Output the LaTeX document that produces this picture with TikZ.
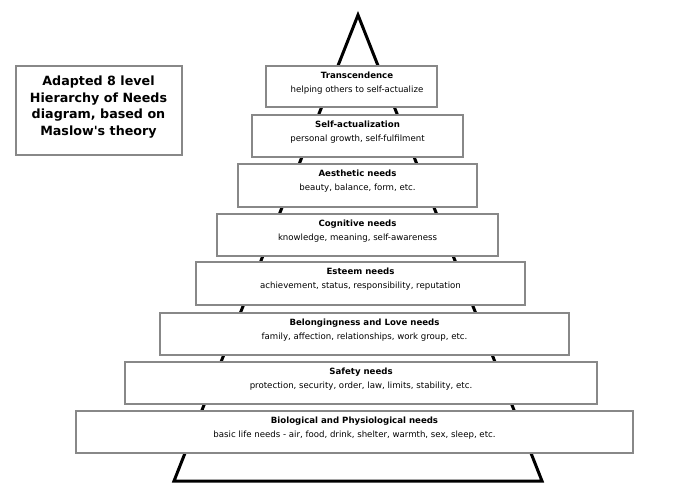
\documentclass[tikz,border=0pt]{standalone}
\usepackage{fontspec}
\setmainfont{DejaVu Sans}
\newfontfamily\titlefont{DejaVu Sans}[Ligatures=TeXOff]
\tikzstyle{pyramid}=[line width=3pt, black, line join=miter]
\tikzstyle{levelbox}=[draw=framegray, line width=2.2pt, fill=white, minimum height=42pt, inner sep=0pt]
\tikzstyle{leveltitle}=[anchor=base, inner sep=0pt, font=\fontsize{8.6}{10}\selectfont\bfseries]
\tikzstyle{levelsub}=[anchor=base, inner sep=0pt, font=\fontsize{8.6}{10}\selectfont]
\definecolor{framegray}{RGB}{136,136,136}

\begin{document}
\begin{tikzpicture}[x=1pt, y=-1pt]
            \useasboundingbox (0, 0) rectangle (700, 496);

            % the pyramid behind the levels
            \coordinate (apex) at (358, 15);
            \coordinate (baseleft) at (174, 481);
            \coordinate (baseright) at (542, 481);
            \draw[pyramid] (apex) -- (baseright) -- (baseleft) -- cycle;

            % title
            \node[draw=framegray, line width=2.2pt, fill=white, minimum width=166pt, minimum height=89pt] (titlebox) at (99, 110.5) {};
            \node[align=center, inner sep=0pt, font=\titlefont\fontsize{12.7}{16.7}\selectfont\bfseries] (titletext) at (98.5, 107)
                {Adapted 8 level\\Hierarchy of Needs\\diagram, based on\\Maslow's theory};

            % levels, top to bottom
            \node[levelbox, minimum width=171pt, minimum height=41pt] (transcend) at (351.5, 86.5) {};
            \node[leveltitle] (transcendtitle) at ([xshift=5.5pt, yshift=-14pt]transcend.north) {Transcendence};
            \node[levelsub] (transcendsub) at ([xshift=5.5pt, yshift=-28pt]transcend.north) {helping others to self-actualize};

            \node[levelbox, minimum width=211pt] (selfact) at (357.5, 136) {};
            \node[leveltitle] (selfacttitle) at ([yshift=-14pt]selfact.north) {Self-actualization};
            \node[levelsub] (selfactsub) at ([yshift=-28pt]selfact.north) {personal growth, self-fulfilment};

            \node[levelbox, minimum width=239pt, minimum height=43pt] (aesthetic) at (357.5, 185.5) {};
            \node[leveltitle] (aesthetictitle) at ([yshift=-14pt]aesthetic.north) {Aesthetic needs};
            \node[levelsub] (aestheticsub) at ([yshift=-28pt]aesthetic.north) {beauty, balance, form, etc.};

            \node[levelbox, minimum width=281pt] (cognitive) at (357.5, 235) {};
            \node[leveltitle] (cognitivetitle) at ([yshift=-14pt]cognitive.north) {Cognitive needs};
            \node[levelsub] (cognitivesub) at ([yshift=-28pt]cognitive.north) {knowledge, meaning, self-awareness};

            \node[levelbox, minimum width=329pt, minimum height=43pt] (esteem) at (360.5, 283.5) {};
            \node[leveltitle] (esteemtitle) at ([yshift=-14pt]esteem.north) {Esteem needs};
            \node[levelsub] (esteemsub) at ([yshift=-28pt]esteem.north) {achievement, status, responsibility, reputation};

            \node[levelbox, minimum width=409pt] (belonging) at (364.5, 334) {};
            \node[leveltitle] (belongingtitle) at ([yshift=-14pt]belonging.north) {Belongingness and Love needs};
            \node[levelsub] (belongingsub) at ([yshift=-28pt]belonging.north) {family, affection, relationships, work group, etc.};

            \node[levelbox, minimum width=472pt] (safety) at (361, 383) {};
            \node[leveltitle] (safetytitle) at ([yshift=-14pt]safety.north) {Safety needs};
            \node[levelsub] (safetysub) at ([yshift=-28pt]safety.north) {protection, security, order, law, limits, stability, etc.};

            \node[levelbox, minimum width=557pt] (biological) at (354.5, 432) {};
            \node[leveltitle] (biologicaltitle) at ([yshift=-14pt]biological.north) {Biological and Physiological needs};
            \node[levelsub] (biologicalsub) at ([yshift=-28pt]biological.north) {basic life needs - air, food, drink, shelter, warmth, sex, sleep, etc.};
        \end{tikzpicture}
\end{document}
